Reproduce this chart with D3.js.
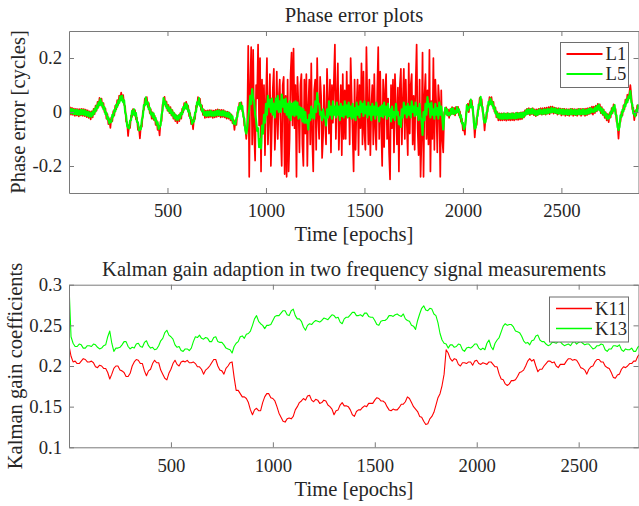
<!DOCTYPE html>
<html>
<head>
<meta charset="utf-8">
<script src="https://cdn.jsdelivr.net/npm/d3@7"></script>
<style>
  body { margin: 0; background: #fff; }
  svg { display: block; }
  text { font-family: "Liberation Serif", "Times New Roman", serif; fill: #262626; }
</style>
</head>
<body>
<svg id="chart" width="639" height="506"></svg>
<script>
// ---- phase error series, one sample every 5 epochs (epochs 0 .. 2890), one row = 100 epochs ----
const phaseStep = 5;
const seriesL1 = [
  -0.008,0.017,-0.01,0.015,-0.011,0.013,-0.014,0.012,-0.013,0.011,-0.016,0.011,-0.013,0.012,-0.014,0.011,-0.015,0.009,-0.019,0.006,
  -0.022,0.002,-0.027,0.002,-0.02,0.012,-0.008,0.024,0.005,0.038,0.019,0.052,0.033,0.05,0.016,0.033,-0.001,0.013,-0.025,-0.008,
  -0.045,-0.026,-0.059,-0.02,-0.034,0.003,-0.013,0.024,0.01,0.044,0.026,0.061,0.045,0.072,0.047,0.063,0.027,0.021,-0.036,-0.037,
  -0.089,-0.048,-0.059,-0.013,-0.018,0.011,-0.011,0.007,-0.027,-0.021,-0.066,-0.056,-0.098,-0.05,-0.054,0.003,0.008,0.05,0.04,0.055,
  0.019,0.033,-0.004,0.011,-0.025,-0.001,-0.029,-0.013,-0.048,-0.031,-0.066,-0.051,-0.087,-0.035,-0.034,0.028,0.038,0.056,0.022,0.039,
  0.005,0.026,-0.004,0.018,-0.013,0.007,-0.025,-0.004,-0.034,-0.012,-0.041,-0.012,-0.034,-0.004,-0.025,0.013,-0.001,0.033,0.015,0.038,
  0.01,0.023,-0.015,-0.004,-0.045,-0.029,-0.064,-0.019,-0.025,0.023,0.019,0.055,0.038,0.049,0.008,0.025,-0.011,0.009,-0.022,0.005,
  -0.02,0.006,-0.02,0.007,-0.018,0.006,-0.022,0.005,-0.02,0.008,-0.018,0.01,-0.015,0.008,-0.02,0.008,-0.018,0.007,-0.02,0.002,
  -0.025,0.001,-0.025,-0.002,-0.031,-0.01,-0.041,-0.028,-0.066,-0.031,-0.048,0.0,-0.001,0.034,0.017,0.036,0.003,-0.001,-0.05,-0.056,
  -0.1,-0.05,0.245,-0.24,0.1,0.24,-0.12,0.23,-0.08,-0.18,0.1,0.05,0.25,-0.05,0.2,-0.22,0.12,-0.06,0.1,-0.16,
  0.04,0.2,-0.12,-0.02,0.14,-0.2,-0.05,0.09,0.16,-0.14,-0.04,0.15,-0.1,0.05,0.12,-0.08,-0.2,0.1,0.13,-0.23,
  0.06,-0.24,0.12,-0.22,-0.1,0.14,0.22,-0.05,0.235,-0.06,0.1,-0.24,0.13,0.02,-0.15,0.1,0.14,-0.12,-0.2,0.12,
  -0.08,0.14,-0.2,0.02,0.12,-0.12,0.18,-0.1,-0.22,0.08,0.12,-0.14,0.2,-0.02,-0.1,0.13,0.06,-0.17,-0.09,0.1,
  -0.04,-0.12,0.16,0.04,-0.08,0.12,-0.15,0.1,-0.04,0.12,0.25,-0.1,0.05,0.18,-0.14,-0.02,0.1,-0.16,0.14,-0.1,
  0.08,-0.1,0.15,-0.02,0.1,-0.12,0.2,0.06,-0.08,-0.22,0.12,-0.14,0.02,0.12,-0.16,0.1,-0.06,0.18,-0.12,0.15,
  -0.08,-0.14,0.24,0.04,-0.12,0.12,-0.16,0.02,0.1,-0.12,0.14,-0.06,-0.14,0.08,0.24,-0.1,0.15,-0.04,-0.2,0.12,
  -0.13,0.08,0.14,-0.1,0.05,-0.15,-0.25,0.1,-0.06,0.12,-0.15,0.14,0.02,-0.12,0.09,-0.22,0.1,0.16,-0.12,0.04,
  0.16,-0.1,0.12,-0.04,-0.16,0.18,-0.08,0.1,0.14,-0.12,0.06,-0.14,0.1,0.25,-0.06,-0.16,0.12,-0.24,-0.1,0.22,
  -0.24,0.06,0.14,-0.1,0.08,-0.12,0.23,-0.22,0.04,-0.1,0.2,-0.14,0.12,0.02,-0.15,0.1,0.04,-0.24,0.08,-0.1,
  -0.15,0.0,-0.004,0.017,-0.013,0.009,-0.022,0.011,-0.008,0.018,-0.008,0.015,-0.013,0.019,-0.002,0.019,-0.013,0.002,-0.036,-0.025,
  -0.068,-0.058,-0.084,-0.012,0.008,0.03,-0.001,0.041,0.031,0.042,0.001,-0.02,-0.094,-0.045,-0.048,0.007,0.01,0.052,0.042,0.047,
  -0.001,-0.009,-0.068,-0.021,-0.025,0.025,0.022,0.055,0.035,0.055,0.022,0.038,0.001,0.016,-0.02,0.0,-0.031,-0.005,-0.031,-0.005,
  -0.031,-0.005,-0.03,-0.006,-0.032,-0.004,-0.03,-0.006,-0.031,-0.005,-0.03,-0.004,-0.031,-0.005,-0.028,-0.002,-0.029,-0.003,-0.027,-0.001,
  -0.026,0.0,-0.02,0.006,-0.01,0.012,-0.008,0.014,-0.012,0.012,-0.008,0.014,-0.012,0.01,-0.015,0.01,-0.012,0.012,-0.008,0.014,
  -0.01,0.014,-0.008,0.015,-0.01,0.016,-0.006,0.018,-0.008,0.02,-0.002,0.02,-0.006,0.016,-0.004,0.014,-0.01,0.014,-0.006,0.013,
  -0.013,0.012,-0.01,0.012,-0.014,0.011,-0.012,0.01,-0.014,0.012,-0.01,0.012,-0.014,0.011,-0.012,0.01,-0.014,0.012,-0.01,0.012,
  -0.014,0.012,-0.01,0.012,-0.014,0.013,-0.012,0.014,-0.008,0.016,-0.006,0.02,-0.01,0.02,-0.004,0.024,0.002,0.03,0.01,0.028,
  -0.004,0.018,-0.011,0.009,-0.022,-0.001,-0.031,-0.008,-0.038,-0.003,-0.02,0.014,-0.004,0.028,0.008,0.012,-0.036,-0.042,-0.099,-0.042,
  -0.036,0.001,-0.013,0.025,0.01,0.046,0.031,0.064,0.045,0.07,0.1,0.06,0.01,0.016,-0.03,0.004,-0.013,0.025,0.01
];
const seriesL5 = [
  0.013,-0.004,0.011,-0.005,0.01,-0.008,0.007,-0.008,0.008,-0.01,0.005,-0.01,0.008,-0.008,0.007,-0.01,0.006,-0.012,0.002,-0.015,
  0.0,-0.018,-0.004,-0.017,0.002,-0.009,0.012,0.002,0.024,0.014,0.036,0.026,0.048,0.024,0.033,0.01,0.018,-0.008,-0.002,-0.027,
  -0.02,-0.042,-0.032,-0.037,-0.01,-0.017,0.008,0.002,0.028,0.019,0.042,0.034,0.058,0.043,0.06,0.036,0.043,-0.001,-0.012,-0.051,
  -0.058,-0.061,-0.032,-0.03,0.004,-0.009,0.01,-0.013,-0.004,-0.037,-0.038,-0.068,-0.066,-0.063,-0.028,-0.017,0.026,0.024,0.054,0.029,
  0.036,0.01,0.016,-0.009,-0.002,-0.02,-0.006,-0.03,-0.022,-0.046,-0.038,-0.063,-0.056,-0.049,-0.01,0.005,0.052,0.029,0.038,0.015,
  0.024,0.004,0.016,-0.004,0.008,-0.013,-0.002,-0.022,-0.01,-0.029,-0.016,-0.029,-0.01,-0.022,-0.002,-0.008,0.018,0.009,0.032,0.014,
  0.028,0.001,0.006,-0.023,-0.02,-0.044,-0.036,-0.035,-0.002,0.001,0.036,0.028,0.052,0.023,0.026,0.002,0.01,-0.011,0.0,-0.015,
  0.002,-0.014,0.002,-0.013,0.004,-0.014,0.0,-0.015,0.002,-0.013,0.004,-0.011,0.006,-0.012,0.002,-0.013,0.004,-0.013,0.002,-0.016,
  -0.002,-0.018,-0.002,-0.021,-0.008,-0.028,-0.016,-0.043,-0.038,-0.046,-0.022,-0.018,0.018,0.01,0.034,0.012,0.022,-0.017,-0.024,-0.067,
  -0.08,-0.06,-0.02,0.01,0.06,0.03,0.085,0.05,0.04,-0.01,-0.03,-0.07,-0.06,-0.13,-0.1,-0.135,-0.05,-0.08,-0.01,-0.04,
  0.03,-0.01,0.06,0.02,0.045,0.0,0.05,-0.01,0.03,-0.02,0.05,0.01,0.06,0.0,0.04,0.0,0.065,0.02,0.045,0.0,
  0.05,-0.01,0.03,-0.02,0.04,-0.03,0.03,-0.01,0.035,-0.015,0.04,-0.01,0.035,-0.025,0.02,-0.02,0.015,-0.035,0.01,-0.04,
  0.0,-0.04,-0.03,-0.065,-0.01,-0.03,0.02,-0.02,0.01,-0.025,0.04,0.0,0.07,0.03,0.03,-0.01,0.0,-0.03,0.01,-0.02,
  -0.02,-0.05,0.01,-0.02,0.04,-0.01,0.02,-0.025,0.04,-0.01,0.02,-0.02,0.035,-0.01,0.02,-0.03,0.03,-0.015,0.02,-0.02,
  0.04,-0.01,0.025,-0.02,0.035,-0.015,0.02,-0.025,0.03,-0.02,0.015,-0.03,0.035,-0.01,0.02,-0.02,0.04,0.0,0.03,-0.015,
  0.04,-0.005,0.02,-0.02,0.035,-0.01,0.02,-0.03,0.03,-0.01,0.02,-0.025,0.035,-0.01,0.015,-0.035,0.02,-0.015,0.025,-0.02,
  0.035,-0.01,0.02,-0.025,0.03,-0.015,0.01,-0.035,0.02,-0.02,0.0,-0.03,0.03,-0.01,0.0,-0.045,-0.02,-0.055,0.01,-0.02,
  0.035,-0.005,0.02,-0.02,0.03,-0.01,0.02,-0.02,0.04,0.0,0.02,-0.015,0.035,-0.01,0.015,-0.03,0.03,-0.02,-0.03,-0.085,
  0.0,-0.03,0.03,-0.01,0.055,0.02,0.03,-0.02,0.035,-0.01,0.01,-0.025,0.03,-0.01,0.015,-0.025,0.035,-0.01,0.02,-0.02,
  -0.065,-0.02,0.016,-0.006,0.01,-0.012,-0.004,-0.012,0.012,-0.006,0.014,-0.008,0.004,-0.004,0.018,0.0,0.01,-0.02,-0.012,-0.042,
  -0.04,-0.063,-0.054,-0.03,0.026,0.006,0.018,0.016,0.046,0.017,0.02,-0.037,-0.062,-0.058,-0.022,-0.013,0.028,0.026,0.056,0.021,
  0.018,-0.027,-0.04,-0.037,-0.002,0.002,0.038,0.028,0.05,0.028,0.038,0.013,0.02,-0.005,0.002,-0.019,-0.008,-0.024,-0.008,-0.025,
  -0.008,-0.025,-0.006,-0.024,-0.008,-0.025,-0.006,-0.023,-0.008,-0.024,-0.006,-0.023,-0.008,-0.024,-0.004,-0.022,-0.006,-0.021,-0.004,-0.02,
  -0.004,-0.02,-0.002,-0.014,0.006,-0.008,0.01,-0.006,0.008,-0.006,0.012,-0.005,0.008,-0.01,0.004,-0.012,0.006,-0.008,0.01,-0.006,
  0.006,-0.008,0.01,-0.006,0.008,-0.006,0.012,-0.004,0.01,-0.002,0.016,0.0,0.012,-0.002,0.014,-0.004,0.008,-0.006,0.012,-0.005,
  0.008,-0.008,0.01,-0.008,0.006,-0.008,0.008,-0.01,0.006,-0.008,0.01,-0.008,0.006,-0.008,0.008,-0.01,0.006,-0.008,0.01,-0.008,
  0.006,-0.008,0.01,-0.008,0.006,-0.008,0.008,-0.006,0.012,-0.004,0.014,0.0,0.01,0.0,0.016,0.004,0.022,0.008,0.028,0.006,
  0.016,-0.004,0.01,-0.01,0.0,-0.02,-0.008,-0.027,-0.014,-0.022,0.002,-0.007,0.016,0.005,0.026,-0.009,-0.012,-0.055,-0.067,-0.055,
  -0.012,-0.018,0.008,0.002,0.028,0.021,0.046,0.036,0.058,0.052,0.078,0.037,0.028,-0.006,-0.007,-0.016,0.008,0.002,0.028
];

// ---- Kalman gain coefficients, one sample every 10 epochs (epochs 0 .. 2800), one row = 200 epochs ----
const gainStep = 10;
const gainK11 = [
  0.225,0.212,0.205,0.206,0.203,0.203,0.206,0.209,0.208,0.205,0.205,0.206,0.204,0.199,0.198,0.201,0.2,0.197,0.197,0.192,
  0.184,0.19,0.197,0.2,0.2,0.195,0.194,0.192,0.187,0.187,0.191,0.2,0.205,0.208,0.207,0.203,0.203,0.194,0.188,0.194,
  0.196,0.203,0.207,0.204,0.204,0.195,0.19,0.185,0.183,0.191,0.196,0.203,0.207,0.202,0.2,0.205,0.206,0.205,0.207,0.204,
  0.204,0.205,0.203,0.199,0.199,0.196,0.19,0.195,0.197,0.2,0.204,0.208,0.208,0.2,0.195,0.194,0.19,0.197,0.2,0.204,
  0.205,0.186,0.17,0.17,0.166,0.162,0.162,0.16,0.155,0.146,0.14,0.146,0.148,0.145,0.145,0.155,0.162,0.166,0.166,0.161,
  0.16,0.157,0.15,0.142,0.137,0.132,0.131,0.135,0.136,0.135,0.138,0.146,0.15,0.155,0.157,0.16,0.158,0.163,0.164,0.158,
  0.156,0.159,0.158,0.154,0.155,0.158,0.157,0.152,0.15,0.147,0.14,0.145,0.146,0.152,0.155,0.151,0.151,0.15,0.146,0.14,
  0.138,0.144,0.146,0.146,0.149,0.151,0.15,0.154,0.154,0.154,0.158,0.161,0.16,0.157,0.157,0.155,0.15,0.146,0.145,0.147,
  0.146,0.146,0.149,0.153,0.153,0.156,0.162,0.16,0.155,0.15,0.147,0.144,0.138,0.137,0.132,0.128,0.129,0.135,0.138,0.143,
  0.152,0.161,0.166,0.176,0.19,0.22,0.216,0.209,0.206,0.209,0.208,0.202,0.2,0.204,0.204,0.203,0.205,0.205,0.201,0.206,
  0.207,0.203,0.202,0.204,0.203,0.202,0.205,0.205,0.202,0.199,0.199,0.19,0.184,0.183,0.178,0.176,0.178,0.182,0.182,0.183,
  0.187,0.192,0.193,0.195,0.2,0.206,0.209,0.206,0.208,0.2,0.193,0.196,0.196,0.2,0.203,0.206,0.206,0.204,0.205,0.2,
  0.198,0.202,0.202,0.202,0.206,0.209,0.209,0.207,0.208,0.207,0.203,0.198,0.197,0.195,0.19,0.196,0.199,0.2,0.205,0.208,
  0.208,0.205,0.205,0.2,0.198,0.197,0.192,0.186,0.185,0.189,0.19,0.196,0.199,0.198,0.2,0.203,0.203,0.206,0.206,0.212,
  0.215
];
const gainK13 = [
  0.300,0.236,0.228,0.224,0.224,0.227,0.226,0.222,0.222,0.225,0.225,0.224,0.227,0.226,0.223,0.221,0.222,0.225,0.226,0.236,
  0.243,0.228,0.218,0.222,0.222,0.223,0.226,0.23,0.23,0.224,0.221,0.223,0.222,0.227,0.228,0.224,0.223,0.229,0.231,0.225,
  0.222,0.223,0.22,0.221,0.225,0.231,0.234,0.241,0.244,0.238,0.236,0.233,0.226,0.223,0.224,0.219,0.218,0.221,0.221,0.219,
  0.222,0.23,0.236,0.235,0.238,0.234,0.233,0.235,0.234,0.23,0.23,0.235,0.236,0.23,0.229,0.229,0.226,0.222,0.221,0.22,
  0.216,0.224,0.228,0.23,0.236,0.237,0.234,0.239,0.24,0.243,0.25,0.258,0.262,0.255,0.252,0.25,0.246,0.25,0.25,0.251,
  0.256,0.261,0.262,0.262,0.265,0.268,0.268,0.263,0.262,0.268,0.27,0.262,0.258,0.258,0.255,0.248,0.244,0.25,0.252,0.251,
  0.254,0.256,0.255,0.254,0.256,0.259,0.258,0.257,0.26,0.263,0.262,0.259,0.26,0.254,0.252,0.258,0.26,0.26,0.263,0.266,
  0.266,0.262,0.262,0.263,0.261,0.265,0.265,0.261,0.26,0.26,0.256,0.251,0.25,0.255,0.256,0.256,0.258,0.262,0.262,0.261,
  0.263,0.264,0.262,0.261,0.264,0.258,0.256,0.255,0.25,0.249,0.245,0.256,0.264,0.271,0.274,0.269,0.268,0.271,0.27,0.264,
  0.262,0.253,0.24,0.232,0.228,0.227,0.222,0.226,0.226,0.223,0.224,0.227,0.226,0.22,0.218,0.222,0.223,0.222,0.224,0.227,
  0.227,0.222,0.22,0.222,0.22,0.228,0.232,0.224,0.22,0.228,0.232,0.235,0.242,0.249,0.252,0.25,0.251,0.251,0.248,0.243,
  0.242,0.241,0.237,0.231,0.228,0.229,0.226,0.231,0.232,0.237,0.238,0.232,0.23,0.23,0.227,0.225,0.226,0.229,0.229,0.228,
  0.23,0.23,0.227,0.225,0.226,0.227,0.225,0.229,0.23,0.227,0.229,0.23,0.228,0.226,0.227,0.227,0.224,0.221,0.222,0.225,
  0.225,0.227,0.226,0.22,0.218,0.221,0.221,0.225,0.225,0.224,0.226,0.22,0.218,0.221,0.22,0.22,0.222,0.218,0.218,0.223,
  0.225
];

// ---- ticks and labels ----
const epochTicks = [500, 1000, 1500, 2000, 2500];
const phaseTicks = [-0.2, 0, 0.2];
const gainTicks = [0.1, 0.15, 0.2, 0.25, 0.3];
const phaseNames = ["L1", "L5"];
const gainNames = ["K11", "K13"];
const seriesColors = ["#ff0000", "#00ff00"];

const svg = d3.select("#chart");
const AXIS = "#7a7a7a";
const TICK_FONT = 18.7;
const LABEL_FONT = 20.6;
const plotLeft = 69, plotRight = 639;

function drawPanel(cfg, idx) {
  const x = d3.scaleLinear().domain([0, cfg.xMax]).range([plotLeft, plotRight]);
  const y = d3.scaleLinear().domain(cfg.yDomain).range([cfg.bottom, cfg.top]);
  const g = svg.append("g");

  const clipId = "clip" + idx;
  svg.append("clipPath").attr("id", clipId)
    .append("rect")
    .attr("x", plotLeft).attr("y", cfg.top)
    .attr("width", plotRight - plotLeft).attr("height", cfg.bottom - cfg.top);

  // data lines
  const lines = g.append("g").attr("clip-path", `url(#${clipId})`);
  cfg.series.forEach((s, i) => {
    const line = d3.line()
      .x((d, k) => x(k * cfg.step))
      .y(d => y(d));
    lines.append("path")
      .datum(s)
      .attr("fill", "none")
      .attr("stroke", seriesColors[i])
      .attr("stroke-width", cfg.widths[i])
      .attr("stroke-linejoin", "round")
      .attr("d", line);
  });

  // axes with inward ticks on all four sides
  const styleAxis = a => {
    a.attr("font-family", null).attr("font-size", null);
    a.selectAll(".domain").attr("stroke", AXIS).attr("stroke-width", 1);
    a.selectAll(".tick line").attr("stroke", AXIS).attr("stroke-width", 1);
    a.selectAll("text").attr("font-size", TICK_FONT + "px").attr("fill", "#262626");
  };
  g.append("g").attr("transform", `translate(0,${cfg.bottom})`)
    .call(d3.axisBottom(x).tickValues(epochTicks).tickSizeInner(-5).tickSizeOuter(0)
      .tickPadding(11).tickFormat(String))
    .call(styleAxis);
  g.append("g").attr("transform", `translate(0,${cfg.top})`)
    .call(d3.axisTop(x).tickValues(epochTicks).tickSizeInner(-5).tickSizeOuter(0).tickFormat(""))
    .call(styleAxis);
  g.append("g").attr("transform", `translate(${plotLeft},0)`)
    .call(d3.axisLeft(y).tickValues(cfg.yTicks).tickSizeInner(-5).tickSizeOuter(0)
      .tickPadding(7).tickFormat(String))
    .call(styleAxis);
  g.append("g").attr("transform", `translate(${plotRight - 0.5},0)`)
    .call(d3.axisRight(y).tickValues(cfg.yTicks).tickSizeInner(-5).tickSizeOuter(0).tickFormat(""))
    .call(styleAxis);

  // title and axis labels
  const cx = (plotLeft + plotRight) / 2;
  g.append("text").attr("x", cx).attr("y", cfg.titleY)
    .attr("text-anchor", "middle").attr("font-size", LABEL_FONT + "px").text(cfg.title);
  g.append("text").attr("x", cx).attr("y", cfg.xLabelY)
    .attr("text-anchor", "middle").attr("font-size", LABEL_FONT + "px").text("Time [epochs]");
  g.append("text")
    .attr("transform", `translate(${cfg.yLabelX},${(cfg.top + cfg.bottom) / 2}) rotate(-90)`)
    .attr("text-anchor", "middle").attr("font-size", LABEL_FONT + "px").text(cfg.yLabel);

  // legend
  const lg = g.append("g").attr("transform", `translate(${cfg.legend.x},${cfg.legend.y})`);
  lg.append("rect").attr("x", 0.5).attr("y", 0.5)
    .attr("width", cfg.legend.w).attr("height", 45)
    .attr("fill", "#fff").attr("stroke", "#6e6e6e").attr("stroke-width", 1);
  cfg.names.forEach((n, i) => {
    const ly = 12 + i * 20;
    lg.append("line")
      .attr("x1", cfg.legend.lineX).attr("x2", cfg.legend.lineX + cfg.legend.lineW)
      .attr("y1", ly).attr("y2", ly)
      .attr("stroke", seriesColors[i]).attr("stroke-width", cfg.legend.lineWidth);
    lg.append("text").attr("x", cfg.legend.lineX + cfg.legend.lineW + 3).attr("y", ly)
      .attr("dy", "0.34em").attr("font-size", TICK_FONT + "px").text(n);
  });
}

drawPanel({
  top: 31, bottom: 193, xMax: 2894, yDomain: [-0.3, 0.3], yTicks: phaseTicks,
  step: phaseStep, series: [seriesL1, seriesL5], widths: [1.7, 2.1],
  title: "Phase error plots", titleY: 21.5, xLabelY: 241, yLabelX: 25,
  yLabel: "Phase error [cycles]", names: phaseNames,
  legend: { x: 560, y: 42, w: 68, lineX: 6.5, lineW: 36, lineWidth: 2 }
}, 0);

drawPanel({
  top: 284.7, bottom: 447.3, xMax: 2796, yDomain: [0.1, 0.3], yTicks: gainTicks,
  step: gainStep, series: [gainK11, gainK13], widths: [1.1, 1.1],
  title: "Kalman gain adaption in two frequency signal measurements", titleY: 275.5,
  xLabelY: 495.5, yLabelX: 21.5,
  yLabel: "Kalman gain coefficients", names: gainNames,
  legend: { x: 549, y: 296.5, w: 79, lineX: 7, lineW: 36, lineWidth: 1.4 }
}, 1);
</script>
</body>
</html>
